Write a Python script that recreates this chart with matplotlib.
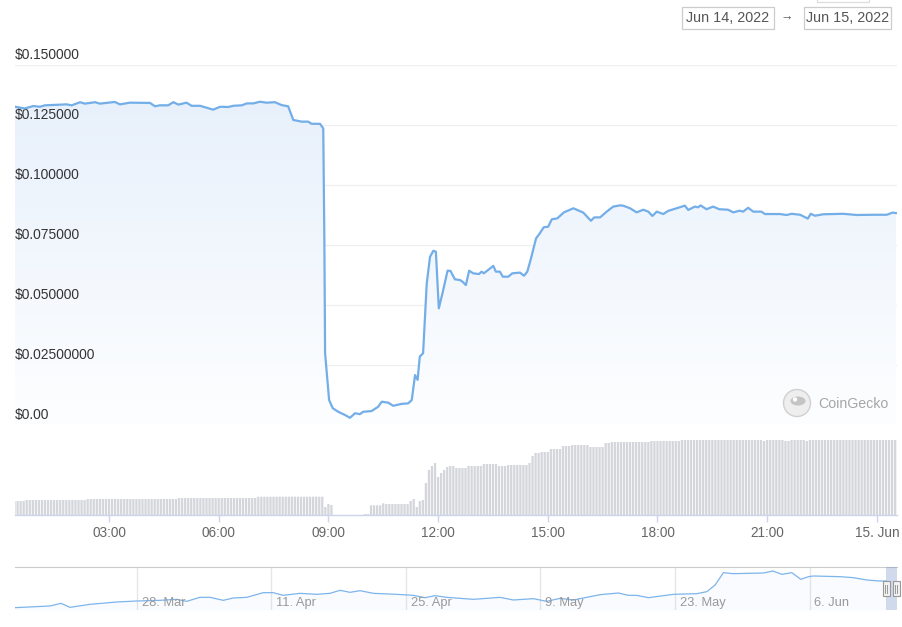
import numpy as np
import matplotlib
matplotlib.use("Agg")
import matplotlib.pyplot as plt
from matplotlib.patches import Rectangle, Circle, Ellipse
from matplotlib.colors import LinearSegmentedColormap

plt.rcParams['font.family'] = ['Liberation Sans', 'DejaVu Sans']

# price, Jun 14 2022 (hours since midnight)
price_hours = [0.43, 0.70, 0.93, 1.11, 1.25, 1.84, 1.98, 2.21, 2.34, 2.62, 2.75, 3.16, 3.30, 3.57,
               4.12, 4.26, 4.39, 4.62, 4.76, 4.90, 5.12, 5.26, 5.49, 5.85, 6.04, 6.26, 6.40, 6.63,
               6.77, 6.95, 7.13, 7.31, 7.54, 7.72, 7.90, 8.04, 8.27, 8.45, 8.54, 8.77, 8.84, 8.86,
               8.89, 8.91, 9.02, 9.12, 9.27, 9.45, 9.59, 9.73, 9.86, 9.95, 10.18, 10.36, 10.46,
               10.64, 10.77, 11.00, 11.18, 11.28, 11.37, 11.44, 11.50, 11.59, 11.69, 11.78, 11.87,
               11.94, 12.02, 12.12, 12.26, 12.34, 12.46, 12.60, 12.67, 12.76, 12.85, 12.96, 13.12,
               13.19, 13.25, 13.37, 13.51, 13.58, 13.69, 13.77, 13.92, 14.03, 14.24, 14.35, 14.44,
               14.53, 14.68, 14.77, 14.89, 15.01, 15.11, 15.26, 15.44, 15.70, 15.97, 16.18, 16.27,
               16.43, 16.61, 16.79, 16.97, 17.06, 17.25, 17.43, 17.61, 17.75, 17.86, 17.98, 18.16,
               18.29, 18.52, 18.75, 18.84, 19.02, 19.11, 19.18, 19.34, 19.52, 19.69, 19.93, 20.07,
               20.25, 20.34, 20.48, 20.62, 20.84, 20.94, 21.35, 21.53, 21.67, 21.90, 22.11, 22.19,
               22.31, 22.53, 23.08, 23.45, 23.90, 24.27, 24.43, 24.52]
price_usd = [0.1326, 0.1319, 0.1329, 0.1326, 0.1332, 0.1336, 0.1332, 0.1345, 0.1339, 0.1345, 0.1339,
             0.1346, 0.1336, 0.1343, 0.1342, 0.1328, 0.1332, 0.1332, 0.1345, 0.1335, 0.1343, 0.1330,
             0.1330, 0.1314, 0.1326, 0.1325, 0.1330, 0.1332, 0.1340, 0.1340, 0.1347, 0.1343, 0.1345,
             0.1333, 0.1328, 0.1271, 0.1264, 0.1264, 0.1255, 0.1255, 0.1240, 0.1236, 0.0771, 0.0299,
             0.0104, 0.0070, 0.0055, 0.0042, 0.0030, 0.0049, 0.0045, 0.0055, 0.0058, 0.0076, 0.0097,
             0.0093, 0.0080, 0.0088, 0.0090, 0.0104, 0.0208, 0.0188, 0.0285, 0.0299, 0.0590, 0.0701,
             0.0726, 0.0722, 0.0486, 0.0549, 0.0643, 0.0642, 0.0607, 0.0604, 0.0597, 0.0583, 0.0643,
             0.0632, 0.0629, 0.0639, 0.0632, 0.0646, 0.0663, 0.0639, 0.0639, 0.0618, 0.0618, 0.0632,
             0.0635, 0.0622, 0.0639, 0.0688, 0.0778, 0.0796, 0.0824, 0.0826, 0.0857, 0.0861, 0.0886,
             0.0903, 0.0885, 0.0851, 0.0865, 0.0865, 0.0889, 0.0910, 0.0915, 0.0914, 0.0903, 0.0886,
             0.0897, 0.0889, 0.0871, 0.0889, 0.0879, 0.0892, 0.0903, 0.0914, 0.0896, 0.0910, 0.0907,
             0.0915, 0.0899, 0.0910, 0.0899, 0.0897, 0.0886, 0.0893, 0.0889, 0.0905, 0.0889, 0.0889,
             0.0879, 0.0879, 0.0875, 0.0880, 0.0876, 0.0860, 0.0880, 0.0872, 0.0878, 0.0880, 0.0875,
             0.0876, 0.0876, 0.0885, 0.0883]

# volume (relative), read as steps: level holds from each start hour
vol_start = [0.40, 0.74, 2.40, 4.86, 7.04, 8.84, 8.92, 9.00, 9.08, 9.16, 10.00, 10.16, 10.50, 10.58,
             11.24, 11.32, 11.40, 11.49, 11.57, 11.65, 11.74, 11.82, 11.90, 11.99, 12.07, 12.15,
             12.24, 12.32, 12.49, 12.82, 13.24, 13.65, 13.90, 14.49, 14.57, 14.65, 14.82, 15.07,
             15.40, 15.65, 16.15, 16.57, 16.74, 17.82, 18.65, 20.90, 21.00, 21.50, 21.60, 22.05, 22.15]
vol_level = [14, 15, 16, 17, 18.3, 8, 14, 11, 10, 0, 1, 9.7, 11.7, 11,
             14, 16, 8, 14, 15, 32, 45, 49, 52, 38, 42, 45,
             48, 49, 47, 49, 51, 49, 50, 52, 59, 62, 63, 66,
             69, 70, 68, 72, 73, 74, 75, 74, 75, 74, 75, 74, 75]
bar_first = 0.4167   # 00:25, bars every 5 minutes
bar_count = 290

time_ticks = [3, 6, 9, 12, 15, 18, 21, 24]
time_labels = ['03:00', '06:00', '09:00', '12:00', '15:00', '18:00', '21:00', '15. Jun']
price_ticks = [0.0, 0.025, 0.05, 0.075, 0.1, 0.125, 0.15]
price_labels = ['$0.00', '$0.02500000', '$0.050000', '$0.075000', '$0.100000', '$0.125000', '$0.150000']

# navigator: days since 28 Mar, price
nav_days = [-12.66, -9.02, -7.88, -6.94, -4.86, -2.08, 0.0, 2.42, 4.16, 5.20, 6.59, 7.63, 9.01,
            10.05, 11.45, 13.17, 14.21, 15.25, 16.99, 18.73, 20.11, 21.15, 22.20, 23.24, 24.62,
            27.06, 28.78, 30.0, 31.04, 32.26, 35.03, 37.80, 39.19, 41.27, 42.66, 44.05, 45.43,
            47.51, 48.21, 50.11, 51.16, 52.0, 53.24, 55.84, 58.27, 59.31, 60.18, 61.04, 62.08,
            65.20, 66.18, 67.12, 68.16, 69.09, 69.89, 70.41, 73.18, 74.57, 75.96, 77.35, 77.97]
nav_price = [0.007, 0.012, 0.020, 0.008, 0.017, 0.024, 0.027, 0.029, 0.032, 0.026, 0.038, 0.038,
             0.029, 0.036, 0.038, 0.052, 0.052, 0.044, 0.050, 0.047, 0.050, 0.059, 0.053, 0.058,
             0.050, 0.047, 0.044, 0.037, 0.043, 0.038, 0.032, 0.038, 0.030, 0.034, 0.026, 0.035,
             0.030, 0.042, 0.046, 0.051, 0.044, 0.044, 0.037, 0.047, 0.049, 0.055, 0.075, 0.112,
             0.109, 0.111, 0.117, 0.107, 0.112, 0.092, 0.100, 0.102, 0.100, 0.097, 0.090, 0.087,
             0.087]
nav_ticks = [0, 14, 28, 42, 56, 70]
nav_labels = ['28. Mar', '11. Apr', '25. Apr', '9. May', '23. May', '6. Jun']

W, H = 902, 627
fig = plt.figure(figsize=(W / 100, H / 100), dpi=100)
fig.patch.set_facecolor('white')


def px_axes(x0, y0, x1, y1):
    return fig.add_axes([x0 / W, 1 - y1 / H, (x1 - x0) / W, (y1 - y0) / H])


XL = (0.43, 24.55)
line_c = '#73aee8'
grid_c = '#efefef'

# --- price panel
ax = px_axes(15, 65, 897, 425)
ax.set_xlim(*XL)
ax.set_ylim(0, 0.15)
ax.axis('off')
for v in price_ticks:
    ax.axhline(v, color=grid_c, lw=0.9, zorder=0)
for v, lab in zip(price_ticks, price_labels):
    ax.annotate(lab, (0, v), xycoords=('axes fraction', 'data'), xytext=(0, 2.5),
                textcoords='offset points', ha='left', va='bottom', fontsize=9.9,
                color='#333333', annotation_clip=False)

fill = ax.fill_between(price_hours, price_usd, 0, facecolor='none', edgecolor='none')
grad = LinearSegmentedColormap.from_list('g', ['#fdfeff', '#e6effb'])
im = ax.imshow(np.linspace(0, 1, 256).reshape(-1, 1), cmap=grad, aspect='auto',
               extent=[XL[0], XL[1], 0, 0.15], origin='lower', zorder=1)
im.set_clip_path(fill.get_paths()[0], transform=ax.transData)
ax.set_xlim(*XL)
ax.set_ylim(0, 0.15)
ax.plot(price_hours, price_usd, color=line_c, lw=1.6, zorder=3, solid_joinstyle='round')

# --- volume panel
vax = px_axes(15, 430, 897, 515)
bar_t = bar_first + np.arange(bar_count) / 12
idx = np.searchsorted(vol_start, bar_t, side='right') - 1
vols = np.array(vol_level)[idx]
vax.bar(bar_t, vols, width=0.062, color='#d4d6dc', linewidth=0, snap=False)
vax.set_xlim(*XL)
vax.set_ylim(0, 85)
for s in ['top', 'right', 'left']:
    vax.spines[s].set_visible(False)
vax.spines['bottom'].set_color('#ccd6eb')
vax.spines['bottom'].set_linewidth(1)
vax.set_yticks([])
vax.set_xticks(time_ticks)
vax.set_xticklabels(time_labels, fontsize=9.8, color='#666666')
vax.tick_params(axis='x', length=5, color='#ccd6eb', width=1, pad=3)

# --- navigator
nax = px_axes(15, 567, 897, 610)
nax.set_xlim(-12.66, 79.1)
nax.set_ylim(0, 0.129)
for s in ['right', 'left', 'bottom']:
    nax.spines[s].set_visible(False)
nax.spines['top'].set_color('#cccccc')
nax.set_xticks([])
nax.set_yticks([])
for d, lab in zip(nav_ticks, nav_labels):
    nax.axvline(d, color='#e6e6e6', lw=1, zorder=0)
    nax.annotate(lab, (d, 0), xycoords=('data', 'axes fraction'), xytext=(3.5, 1),
                 textcoords='offset points', ha='left', va='bottom', fontsize=9.3,
                 color='#999999')
nax.fill_between(nav_days, nav_price, 0, color='#73aee8', alpha=0.04, lw=0)
nax.plot(nav_days, nav_price, color='#7cb5ec', lw=0.9)

# --- decorations in pixel space
ov = fig.add_axes([0, 0, 1, 1], facecolor='none')
ov.set_xlim(0, W)
ov.set_ylim(H, 0)
ov.axis('off')

# navigator selection mask and handles
ov.add_patch(Rectangle((886, 567), 11, 43, facecolor='#6685c2', alpha=0.3, lw=0))
for hx in (882.5, 892.5):
    ov.add_patch(Rectangle((hx, 581), 7, 15, facecolor='#f2f2f2', edgecolor='#999999', lw=0.8))
    ov.plot([hx + 2.5, hx + 2.5], [584.5, 592.5], color='#999999', lw=0.7)
    ov.plot([hx + 4.5, hx + 4.5], [584.5, 592.5], color='#999999', lw=0.7)

# date range boxes
for x0, x1, txt in [(682, 774, 'Jun 14, 2022'), (804, 891, 'Jun 15, 2022')]:
    ov.add_patch(Rectangle((x0, 7), x1 - x0, 22, facecolor='white', edgecolor='#cccccc', lw=0.9))
    ov.text((x0 + x1) / 2, 18.5, txt, ha='center', va='center', fontsize=10.4, color='#555555')
ov.text(787, 18, '\u2192', ha='center', va='center', fontsize=9, color='#555555')
ov.add_patch(Rectangle((817, -6), 52, 7.5, facecolor='white', edgecolor='#dddddd', lw=0.9))

# watermark
ov.add_patch(Circle((797, 403), 13.5, facecolor='#eeeeee', edgecolor='#d0d0d0', lw=1))
ov.add_patch(Ellipse((798, 401), 15, 9, facecolor='#c4c4c4', edgecolor='none'))
ov.add_patch(Circle((795, 399.5), 2.2, facecolor='white', edgecolor='none'))
ov.text(818, 403.5, 'CoinGecko', ha='left', va='center', fontsize=10.2, color='#a6a6a6')

fig.savefig('out.png', dpi=100, facecolor='white')
